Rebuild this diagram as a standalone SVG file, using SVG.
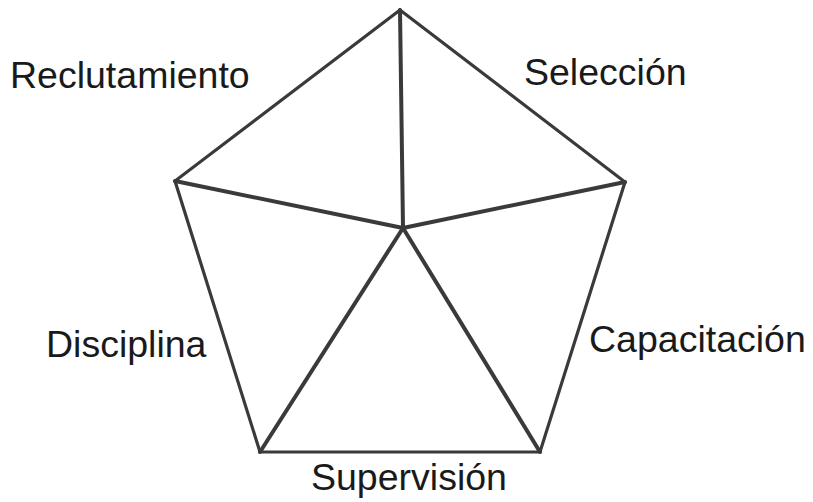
<svg xmlns="http://www.w3.org/2000/svg" width="813" height="502" viewBox="0 0 813 502">
<style>
.edge{stroke:#3a3a3a;stroke-width:3.2;fill:none;stroke-linejoin:miter;stroke-linecap:round}
.spoke{stroke:#3a3a3a;stroke-width:4;fill:none;stroke-linecap:round}
.lbl{font-family:"Liberation Sans",Arial,sans-serif;font-size:37.5px;fill:#1a1a1a}
</style>
<rect width="813" height="502" fill="#ffffff"/>
<g id="connectors">
<polygon class="edge" points="400,10 625,182 540,452 260,452 175,181"/>
<line class="spoke" x1="403" y1="228" x2="400" y2="10"/>
<line class="spoke" x1="403" y1="228" x2="625" y2="182"/>
<line class="spoke" x1="403" y1="228" x2="540" y2="452"/>
<line class="spoke" x1="403" y1="228" x2="260" y2="452"/>
<line class="spoke" x1="403" y1="228" x2="175" y2="181"/>
</g>
<g id="reclutamiento"><text class="lbl" x="10" y="88">Reclutamiento</text></g>
<g id="seleccion"><text class="lbl" x="524" y="85">Selección</text></g>
<g id="capacitacion"><text class="lbl" x="589" y="352">Capacitación</text></g>
<g id="supervision"><text class="lbl" x="311" y="490">Supervisión</text></g>
<g id="disciplina"><text class="lbl" x="46" y="357">Disciplina</text></g>
</svg>
